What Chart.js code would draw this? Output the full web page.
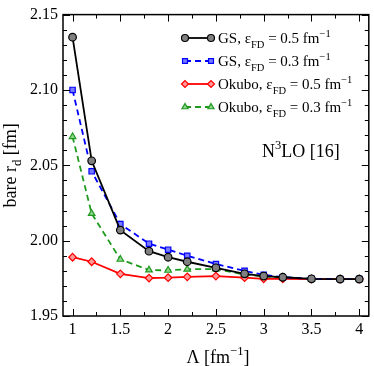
<!DOCTYPE html>
<html>
<head>
<meta charset="utf-8">
<script src="https://cdn.jsdelivr.net/npm/chart.js@4/dist/chart.umd.min.js"></script>
<style>
  html, body { margin: 0; padding: 0; background: #fff; }
  #wrap { width: 374px; height: 366px; }
</style>
</head>
<body>
<div id="wrap"><canvas id="rd"></canvas></div>
<script>
// cutoff values Lambda [fm^-1]
var lambdas = [1, 1.2, 1.5, 1.8, 2, 2.2, 2.5, 2.8, 3, 3.2, 3.5, 3.8, 4];
var gs05    = [2.135, 2.053, 2.007, 1.993, 1.989, 1.986, 1.982, 1.978, 1.9765, 1.9757, 1.9747, 1.9745, 1.9745];
var gs03    = [2.100, 2.046, 2.011, 1.998, 1.994, 1.990, 1.9845, 1.980, 1.9773, 1.9757, 1.9747, 1.9745, 1.9745];
var oku05   = [1.989, 1.986, 1.978, 1.9752, 1.9754, 1.976, 1.9765, 1.9754, 1.9747, 1.9747, 1.9745, 1.9745, 1.9745];
var oku03   = [2.069, 2.018, 1.9876, 1.9805, 1.9803, 1.981, 1.9812, 1.9775, 1.9762, 1.9757, 1.9745, 1.9745, 1.9745];
var xTicks = [1, 1.5, 2, 2.5, 3, 3.5, 4];
var yTicks = [1.95, 2.00, 2.05, 2.10, 2.15];

var FONT = '"Liberation Serif", "Times New Roman", serif';

function pts(ys) {
  return lambdas.map(function (x, i) { return { x: x, y: ys[i] }; });
}

var series = [
  { label: 'GS', eps: '0.5', data: gs05, color: '#000000', fill: '#808080', style: 'circle', dash: [] },
  { label: 'GS', eps: '0.3', data: gs03, color: '#0000ff', fill: '#7a7aff', style: 'rect', dash: [6, 4] },
  { label: 'Okubo', eps: '0.5', data: oku05, color: '#ff0000', fill: '#ff9a9a', style: 'rectRot', dash: [] },
  { label: 'Okubo', eps: '0.3', data: oku03, color: '#1f9a1f', fill: '#8fd48f', style: 'triangle', dash: [6, 4] }
];

// draw text pieces with sub/superscripts, returns end x
function rich(ctx, x, y, parts, size) {
  parts.forEach(function (p) {
    var s = size, dy = 0;
    if (p.sub) { s = size * 0.7; dy = size * 0.3; }
    if (p.sup) { s = size * 0.7; dy = -size * 0.42; }
    ctx.font = s + 'px ' + FONT;
    ctx.fillText(p.t, x, y + dy);
    x += ctx.measureText(p.t).width;
  });
  return x;
}

var decor = {
  id: 'decor',
  afterDraw: function (chart) {
    var ctx = chart.ctx, a = chart.chartArea;
    var xs = chart.scales.x, ys = chart.scales.y;
    ctx.save();
    // frame
    ctx.strokeStyle = '#000';
    ctx.lineWidth = 1.5;
    ctx.strokeRect(a.left, a.top, a.right - a.left, a.bottom - a.top);
    // inward ticks
    ctx.lineWidth = 1;
    ctx.beginPath();
    for (var v = 1; v <= 4.001; v += 0.25) {
      var px = Math.round(xs.getPixelForValue(v)) + 0.5;
      var len = (Math.abs(v * 2 - Math.round(v * 2)) < 1e-6) ? 7 : 4;
      ctx.moveTo(px, a.bottom); ctx.lineTo(px, a.bottom - len);
      ctx.moveTo(px, a.top); ctx.lineTo(px, a.top + len);
    }
    for (var k = 0; k <= 20; k++) {
      var val = 1.95 + k * 0.01;
      var py = Math.round(ys.getPixelForValue(val)) + 0.5;
      var l2 = (k % 5 === 0) ? 7 : 4;
      ctx.moveTo(a.left, py); ctx.lineTo(a.left + l2, py);
      ctx.moveTo(a.right, py); ctx.lineTo(a.right - l2, py);
    }
    ctx.stroke();

    // legend
    ctx.textAlign = 'left';
    ctx.textBaseline = 'alphabetic';
    series.forEach(function (s, i) {
      var y = 38 + i * 23;
      ctx.strokeStyle = s.color;
      ctx.lineWidth = 1.8;
      ctx.setLineDash(s.dash);
      ctx.beginPath(); ctx.moveTo(185, y); ctx.lineTo(211, y); ctx.stroke();
      ctx.setLineDash([]);
      ctx.fillStyle = s.fill;
      ctx.lineWidth = 1.2;
      [185, 211].forEach(function (mx) {
        Chart.helpers.drawPoint(ctx, { pointStyle: s.style, radius: 3.5, rotation: 0, borderWidth: 1.2 }, mx, y);
      });
      ctx.fillStyle = '#000';
      rich(ctx, 218, y + 5, [
        { t: s.label + ', \u03b5' }, { t: 'FD', sub: true },
        { t: ' = ' + s.eps + ' fm' }, { t: '\u22121', sup: true }
      ], 15);
    });

    // annotation
    ctx.fillStyle = '#000';
    rich(ctx, 262, 157, [{ t: 'N' }, { t: '3', sup: true }, { t: 'LO [16]' }], 18);

    // x title
    ctx.font = '18px ' + FONT;
    var xparts = [{ t: '\u039b [fm' }, { t: '\u22121', sup: true }, { t: ']' }];
    var w = 0;
    xparts.forEach(function (p) {
      ctx.font = (p.sup ? 18 * 0.7 : 18) + 'px ' + FONT;
      w += ctx.measureText(p.t).width;
    });
    rich(ctx, 218 - w / 2, 363, xparts, 18);

    // y title
    ctx.save();
    ctx.translate(16, (a.top + a.bottom) / 2);
    ctx.rotate(-Math.PI / 2);
    var yparts = [{ t: 'bare r' }, { t: 'd', sub: true }, { t: ' [fm]' }];
    var wy = 0;
    yparts.forEach(function (p) {
      ctx.font = (p.sub ? 18 * 0.7 : 18) + 'px ' + FONT;
      wy += ctx.measureText(p.t).width;
    });
    rich(ctx, -wy / 2, 0, yparts, 18);
    ctx.restore();

    ctx.restore();
  }
};

var datasets = series.map(function (s) {
  return {
    label: s.label + ' ' + s.eps,
    data: pts(s.data),
    borderColor: s.color,
    backgroundColor: s.fill,
    borderWidth: 1.8,
    borderDash: s.dash,
    pointStyle: s.style,
    pointRadius: 3.8,
    pointBorderWidth: 1.2,
    pointBorderColor: s.color,
    pointBackgroundColor: s.fill,
    tension: 0,
    fill: false
  };
});

new Chart(document.getElementById('rd'), {
  type: 'line',
  data: { datasets: datasets },
  options: {
    responsive: true,
    maintainAspectRatio: false,
    animation: false,
    layout: { padding: { top: 6, right: 1, left: 0, bottom: 0 } },
    plugins: { legend: { display: false }, tooltip: { enabled: false } },
    scales: {
      x: {
        type: 'linear',
        min: 0.9, max: 4.1,
        grid: { display: false, drawTicks: false },
        border: { display: false },
        afterBuildTicks: function (s) { s.ticks = xTicks.map(function (v) { return { value: v }; }); },
        afterFit: function (s) { s.height = 50; },
        ticks: {
          padding: 4, maxRotation: 0, autoSkip: false,
          color: '#000', font: { family: FONT, size: 16 },
          callback: function (v) { return String(v); }
        }
      },
      y: {
        min: 1.95, max: 2.15,
        grid: { display: false, drawTicks: false },
        border: { display: false },
        afterBuildTicks: function (s) { s.ticks = yTicks.map(function (v) { return { value: v }; }); },
        afterFit: function (s) { s.width = 63; },
        ticks: {
          padding: 5, autoSkip: false,
          color: '#000', font: { family: FONT, size: 16 },
          callback: function (v) { return Number(v).toFixed(2); }
        }
      }
    }
  },
  plugins: [decor]
});
</script>
</body>
</html>
